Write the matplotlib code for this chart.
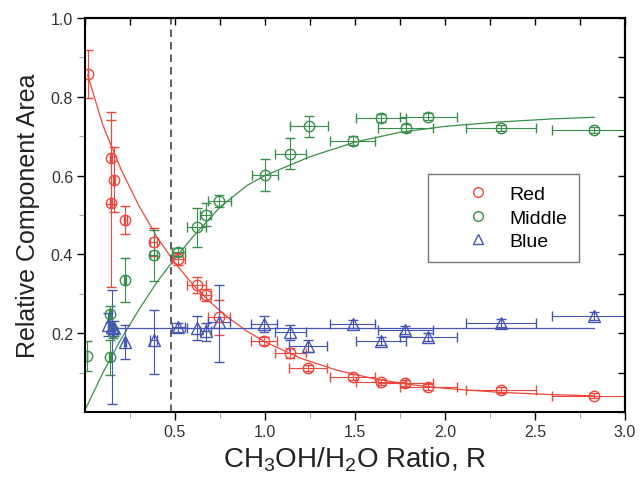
import numpy as np
import matplotlib
matplotlib.use("Agg")
import matplotlib.pyplot as plt
from matplotlib.lines import Line2D
from matplotlib.ticker import MultipleLocator, FixedLocator

plt.rcParams['font.family'] = ['Liberation Sans', 'DejaVu Sans']
plt.rcParams['mathtext.fontset'] = 'custom'
plt.rcParams['mathtext.rm'] = 'Liberation Sans'
plt.rcParams['mathtext.it'] = 'Liberation Sans:italic'

#%% data
red_x = [0.015, 0.144, 0.163, 0.143, 0.224, 0.382, 0.519, 0.620, 0.670, 0.745,
         0.994, 1.139, 1.241, 1.487, 1.643, 1.778, 1.907, 2.311, 2.830]
red_y = [0.858, 0.645, 0.590, 0.530, 0.488, 0.431, 0.388, 0.322, 0.297, 0.240,
         0.181, 0.150, 0.111, 0.088, 0.077, 0.073, 0.063, 0.056, 0.041]
red_yerr = [0.062, 0.117, 0.083, 0.212, 0.035, 0.035, 0.015, 0.020, 0.015, 0.045,
            0.010, 0.012, 0.008, 0.008, 0.008, 0.008, 0.008, 0.008, 0.006]
red_xerr = [0.0, 0.005, 0.005, 0.005, 0.008, 0.020, 0.035, 0.053, 0.030, 0.063,
            0.074, 0.086, 0.106, 0.125, 0.139, 0.153, 0.157, 0.197, 0.236]

mid_x = [0.010, 0.139, 0.157, 0.139, 0.222, 0.382, 0.519, 0.620, 0.670, 0.746,
         1.000, 1.139, 1.244, 1.487, 1.643, 1.781, 1.907, 2.311, 2.830]
mid_y = [0.143, 0.249, 0.202, 0.139, 0.335, 0.398, 0.405, 0.469, 0.501, 0.536,
         0.602, 0.656, 0.725, 0.689, 0.746, 0.720, 0.750, 0.721, 0.716]
mid_yerr = [0.038, 0.020, 0.015, 0.045, 0.057, 0.065, 0.010, 0.050, 0.030, 0.015,
            0.040, 0.039, 0.026, 0.012, 0.010, 0.010, 0.010, 0.008, 0.008]
mid_xerr = [0.0, 0.005, 0.005, 0.005, 0.008, 0.020, 0.035, 0.053, 0.030, 0.063,
            0.074, 0.086, 0.106, 0.125, 0.139, 0.153, 0.157, 0.197, 0.236]

blue_x = [0.130, 0.148, 0.160, 0.222, 0.382, 0.519, 0.620, 0.670, 0.745,
          0.994, 1.139, 1.241, 1.487, 1.643, 1.778, 1.907, 2.311, 2.830]
blue_y = [0.222, 0.215, 0.212, 0.178, 0.182, 0.215, 0.214, 0.206, 0.228,
          0.223, 0.202, 0.167, 0.223, 0.181, 0.209, 0.190, 0.226, 0.243]
blue_yerr_lo = [0.030, 0.195, 0.020, 0.043, 0.085, 0.012, 0.030, 0.025, 0.100,
                0.020, 0.020, 0.015, 0.010, 0.010, 0.010, 0.010, 0.010, 0.010]
blue_yerr_hi = [0.030, 0.095, 0.020, 0.043, 0.078, 0.012, 0.030, 0.020, 0.095,
                0.020, 0.020, 0.015, 0.010, 0.010, 0.010, 0.010, 0.010, 0.010]
blue_xerr = [0.005, 0.005, 0.005, 0.008, 0.020, 0.035, 0.053, 0.030, 0.063,
             0.074, 0.086, 0.106, 0.125, 0.139, 0.153, 0.157, 0.197, 0.236]

# fitted curves, points
red_fit_x = [0.015, 0.1, 0.2, 0.3, 0.4, 0.5, 0.6, 0.7, 0.8, 0.9, 1.0, 1.2, 1.4,
             1.6, 1.8, 2.0, 2.3, 2.6, 2.83]
red_fit_y = [0.855, 0.727, 0.616, 0.523, 0.444, 0.378, 0.323, 0.277, 0.238, 0.205,
             0.178, 0.136, 0.106, 0.085, 0.070, 0.060, 0.050, 0.044, 0.041]
mid_fit_x = [0.0, 0.1, 0.2, 0.3, 0.4, 0.5, 0.6, 0.75, 0.9, 1.0, 1.25, 1.5, 1.75,
             2.0, 2.3, 2.6, 2.83]
mid_fit_y = [0.005, 0.100, 0.185, 0.260, 0.330, 0.390, 0.445, 0.520, 0.575, 0.600,
             0.648, 0.685, 0.710, 0.725, 0.736, 0.744, 0.748]
blue_fit_x = [0.14, 2.83]
blue_fit_y = [0.213, 0.213]

r_crit = 0.478

c_red = '#f0463c'
c_mid = '#3a8f4a'
c_blue = '#4656b4'

#%% plot
fig = plt.figure(figsize=(6.4, 4.85), dpi=100)
ax = fig.add_axes([85/640, 1-413/485, 540/640, 394/485])

ax.plot(red_fit_x, red_fit_y, color=c_red, lw=0.9)
ax.plot(mid_fit_x, mid_fit_y, color=c_mid, lw=0.9)
ax.plot(blue_fit_x, blue_fit_y, color=c_blue, lw=0.9)

ax.axvline(r_crit, color='#444444', ls=(0, (4.5, 3)), lw=1.2)

common = dict(ls='none', mfc='none', mew=1.0, elinewidth=0.8,
              capsize=3.5, capthick=0.8)
ax.errorbar(red_x, red_y, yerr=red_yerr, xerr=red_xerr, marker='o', ms=7.5,
            color=c_red, mec=c_red, **common)
ax.errorbar(mid_x, mid_y, yerr=mid_yerr, xerr=mid_xerr, marker='o', ms=7.5,
            color=c_mid, mec=c_mid, **common)
ax.errorbar(blue_x, blue_y, yerr=[blue_yerr_lo, blue_yerr_hi], xerr=blue_xerr,
            marker='^', ms=8.5, color=c_blue, mec=c_blue, **common)

ax.set_xlim(0, 3.0)
ax.set_ylim(0, 1.0)
ax.xaxis.set_major_locator(FixedLocator([0.5, 1.0, 1.5, 2.0, 2.5, 3.0]))
ax.xaxis.set_minor_locator(FixedLocator([0.25, 0.75, 1.25, 1.75, 2.25, 2.75]))
ax.yaxis.set_major_locator(FixedLocator([0.2, 0.4, 0.6, 0.8, 1.0]))
ax.yaxis.set_minor_locator(FixedLocator([0.1, 0.3, 0.5, 0.7, 0.9]))
ax.tick_params(which='major', direction='out', length=5.5, width=1.0,
               labelsize=11.5, labelcolor='#333333', pad=3)
ax.tick_params(which='minor', direction='out', length=4, width=0.8, color='#aaaaaa')
for s in ax.spines.values():
    s.set_linewidth(1.5)

# inward ticks on top and right
top = ax.secondary_xaxis('top')
top.xaxis.set_major_locator(MultipleLocator(0.25))
top.tick_params(direction='in', length=5, width=1.0, labeltop=False)
right = ax.secondary_yaxis('right')
right.yaxis.set_major_locator(MultipleLocator(0.1))
right.tick_params(direction='in', length=5, width=1.0, labelright=False)
top.spines['top'].set_linewidth(1.5)
right.spines['right'].set_linewidth(1.5)

ax.set_xlabel(r'CH$_3$OH/H$_2$O Ratio, R', fontsize=20, color='#222222', labelpad=4)
ax.set_ylabel('Relative Component Area', fontsize=18, color='#222222', labelpad=8)

handles = [Line2D([], [], ls='none', marker='o', ms=7, mfc='none', mec=c_red, mew=1.0),
           Line2D([], [], ls='none', marker='o', ms=7, mfc='none', mec=c_mid, mew=1.0),
           Line2D([], [], ls='none', marker='^', ms=7, mfc='none', mec=c_blue, mew=1.0)]
leg = ax.legend(handles, ['Red', 'Middle', 'Blue'], loc='upper left',
                bbox_to_anchor=(0.635, 0.604), borderaxespad=0, fontsize=14,
                handlelength=4.0, handletextpad=-0.4, borderpad=0.6,
                labelspacing=0.3, fancybox=False, framealpha=1)
leg.get_frame().set_edgecolor('#777777')
leg.get_frame().set_linewidth(1.0)

fig.savefig('out.png', dpi=100)
